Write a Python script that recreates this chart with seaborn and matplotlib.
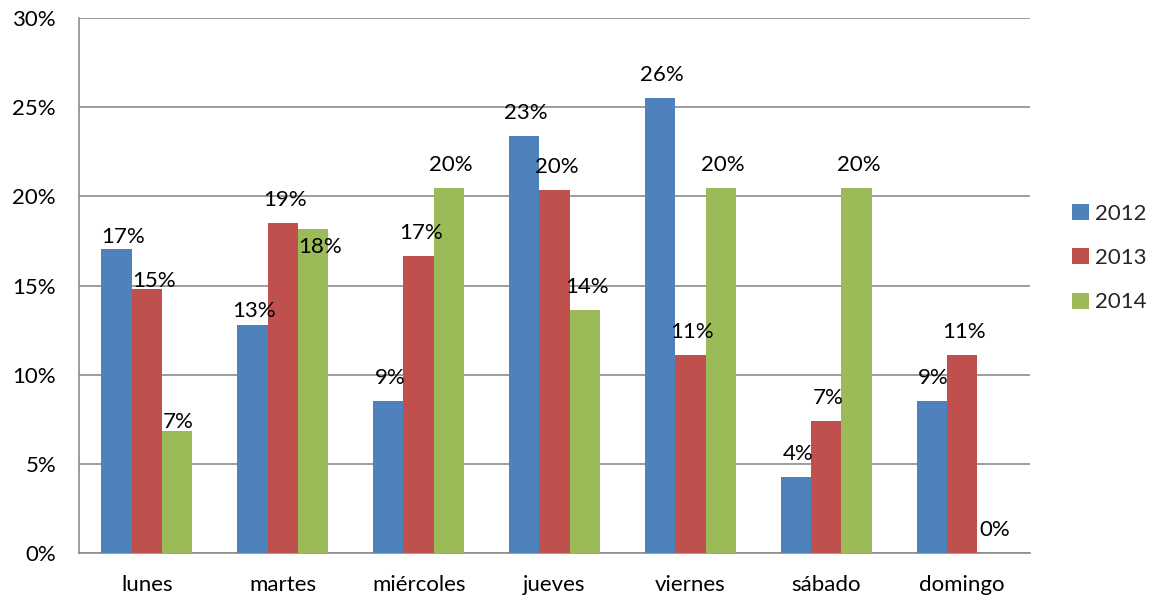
import matplotlib
matplotlib.use("Agg")
import matplotlib.pyplot as plt
from matplotlib.patches import Patch
from matplotlib.ticker import PercentFormatter, FixedLocator
import seaborn as sns
import pandas as pd

# Share of records per weekday, one series per year
dias = ["lunes", "martes", "miércoles", "jueves", "viernes", "sábado", "domingo"]
anios = ["2012", "2013", "2014"]
v2012 = [0.1702, 0.1277, 0.0851, 0.2340, 0.2553, 0.0426, 0.0851]
v2013 = [0.1481, 0.1852, 0.1667, 0.2037, 0.1111, 0.0741, 0.1111]
v2014 = [0.0682, 0.1818, 0.2045, 0.1364, 0.2045, 0.2045, 0.0000]
colores = ["#4F81BD", "#C0504D", "#9BBB59"]

series = [v2012, v2013, v2014]
df = pd.DataFrame({
    "dia": [d for _ in anios for d in dias],
    "anio": [a for a in anios for _ in dias],
    "valor": [v for s in series for v in s],
})

sns.set_style("white")
plt.rcParams["font.family"] = ["Lato", "DejaVu Sans"]
plt.rcParams["font.size"] = 16

fig = plt.figure(figsize=(11.54, 6.03), dpi=100)
ax = fig.add_axes([79 / 1154, 1 - 553 / 603, (1030 - 79) / 1154, (553 - 18) / 603])

sns.barplot(data=df, x="dia", y="valor", hue="anio", order=dias, hue_order=anios,
            palette=colores, width=0.67, gap=0, saturation=1, legend=False,
            edgecolor="none", ax=ax, zorder=3)

grid_col = "#8C8C8C"
ax.set_ylim(0, 0.30)
ax.set_xlim(-0.5, len(dias) - 0.5)
ax.set_yticks([0, 0.05, 0.10, 0.15, 0.20, 0.25, 0.30])
ax.yaxis.set_major_formatter(PercentFormatter(1.0, decimals=0))
ax.grid(axis="y", color=grid_col, linewidth=1.2, zorder=0)
ax.set_axisbelow(True)
ax.set_xlabel("")
ax.set_ylabel("")

for side in ["top", "right"]:
    ax.spines[side].set_visible(False)
for side in ["left", "bottom"]:
    ax.spines[side].set_color(grid_col)
    ax.spines[side].set_linewidth(1.2)

ax.tick_params(axis="y", which="major", direction="out", length=6.5, width=1.2,
               color=grid_col, pad=10, labelsize=16, labelcolor="black")
ax.tick_params(axis="x", which="major", length=0, pad=16, labelsize=16, labelcolor="black")
ax.xaxis.set_minor_locator(FixedLocator([i - 0.5 for i in range(len(dias) + 1)]))
ax.tick_params(axis="x", which="minor", direction="out", length=6.5, width=1.2, color=grid_col)

# Value labels above each bar; a few are nudged to avoid overlapping neighbours
desplaz = {
    ("lunes", "2012"): (6.5, 6),
    ("lunes", "2013"): (7, 2),
    ("lunes", "2014"): (0.5, 3),
    ("martes", "2012"): (1.5, 8),
    ("martes", "2014"): (7, -24),
}
for anio, serie, cont in zip(anios, series, ax.containers):
    for dia, val, barra in zip(dias, serie, cont):
        dx, dy = desplaz.get((dia, anio), (2, 17))
        cx = barra.get_x() + barra.get_width() / 2
        ax.annotate(f"{val:.0%}", xy=(cx, val), xytext=(dx, dy),
                    textcoords="offset pixels", ha="center", va="baseline",
                    fontsize=16, color="black", zorder=5)

handles = [Patch(facecolor=c, edgecolor="none") for c in colores]
fig.legend(handles, anios, loc="center left", bbox_to_anchor=(1072 / 1154, 1 - 258 / 603),
           bbox_transform=fig.transFigure, frameon=False, fontsize=16,
           handlelength=0.75, handleheight=0.75, handletextpad=0.3,
           labelspacing=1.1, borderpad=0, borderaxespad=0)

fig.savefig("out.png", dpi=100)
